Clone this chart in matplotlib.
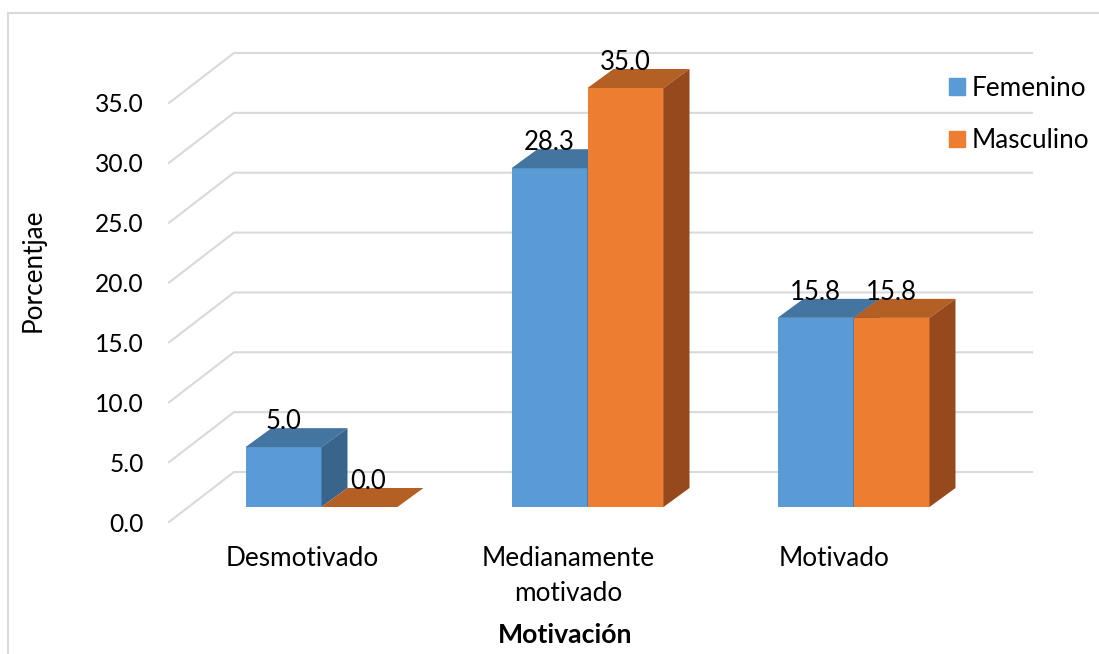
import matplotlib
matplotlib.use('Agg')
import matplotlib.pyplot as plt
from matplotlib.lines import Line2D
from matplotlib.patches import Polygon, Patch

categories = ['Desmotivado', 'Medianamente\nmotivado', 'Motivado']
femenino = [5.0, 28.3, 15.8]
masculino = [0.0, 35.0, 15.8]
yticks = [0, 5, 10, 15, 20, 25, 30, 35]

W, H = 1099, 654
plt.rcParams['font.family'] = ['Lato', 'DejaVu Sans']
plt.rcParams['font.size'] = 18.8
num_size = 17.7

fig = plt.figure(figsize=(W / 100, H / 100), dpi=100)
left, right, top, bottom = 169, 967, 103, 522
ax = fig.add_axes([left / W, 1 - bottom / H, (right - left) / W, (bottom - top) / H])
ax.set_xlim(0, 3)
ax.set_ylim(0, 35)
ax.patch.set_visible(False)
for s in ax.spines.values():
    s.set_visible(False)

# pixel sizes to data units for the fake 3d offsets
px_x = 3 / (right - left)
px_y = 35 / (bottom - top)
wall_dx, wall_dy = 65 * px_x, 50 * px_y
front_dx, front_dy = 19.5 * px_x, 15 * px_y
depth_dx, depth_dy = 26 * px_x, 19 * px_y
bar_w = 76 * px_x
grid_c = '#d9d9d9'

# back wall gridlines with the diagonal on the side wall
for v in yticks:
    ax.plot([0, wall_dx, 3 + wall_dx], [v, v + wall_dy, v + wall_dy], color=grid_c,
            lw=1.5, clip_on=False, zorder=1, solid_joinstyle='miter')


def box(xs, values, front, roof, side, z):
    ax.bar(xs, values, bar_w, bottom=front_dy, align='edge', color=front, zorder=z, clip_on=False)
    for x, v in zip(xs, values):
        y = v + front_dy
        ax.add_patch(Polygon([(x, y), (x + bar_w, y), (x + bar_w + depth_dx, y + depth_dy),
                              (x + depth_dx, y + depth_dy)], closed=True, color=roof, lw=0,
                             zorder=z, clip_on=False))
        ax.add_patch(Polygon([(x + bar_w, front_dy), (x + bar_w, y), (x + bar_w + depth_dx, y + depth_dy),
                              (x + bar_w + depth_dx, front_dy + depth_dy)], closed=True, color=side, lw=0,
                             zorder=z, clip_on=False))


x_fem = [i + 0.5 - bar_w + front_dx for i in range(3)]
x_mas = [i + 0.5 + front_dx for i in range(3)]
for i in range(3):
    box([x_fem[i]], [femenino[i]], '#5b9bd5', '#4474a0', '#39658c', 2 + 2 * i)
    box([x_mas[i]], [masculino[i]], '#ed7d31', '#b45f23', '#95491c', 3 + 2 * i)

# value labels sit over the roof of each bar
for i in range(3):
    ax.text(x_fem[i] + bar_w / 2, femenino[i] + 25.5 * px_y + front_dy, '%.1f' % femenino[i],
            ha='center', va='center', color='black', zorder=20, fontsize=18.5)
    shift = 9 * px_x if masculino[i] == 0 else 0
    ax.text(x_mas[i] + bar_w / 2 + shift, masculino[i] + 25.5 * px_y + front_dy, '%.1f' % masculino[i],
            ha='center', va='center', color='black', zorder=20, fontsize=18.5)

ax.set_yticks(yticks)
ax.set_yticklabels(['%.1f' % v for v in yticks], fontsize=num_size)
ax.set_xticks([0.5, 1.5, 2.5])
ax.set_xticklabels(categories, linespacing=1.54)
ax.tick_params(axis='y', length=0, pad=18)
ax.tick_params(axis='x', length=0, pad=17)

fig.text(33 / W, 1 - 270 / H, 'Porcentjae', rotation=90, ha='center', va='center')
fig.text(565 / W, 1 - 635 / H, 'Motivación', ha='center', va='center', fontsize=19.2, fontweight='bold')

handles = [Patch(color='#5b9bd5', label='Femenino'), Patch(color='#ed7d31', label='Masculino')]
fig.legend(handles=handles, loc='upper left', bbox_to_anchor=(949 / W, 1 - 76 / H), frameon=False,
           handlelength=0.615, handleheight=0.615, handletextpad=0.27, labelspacing=1.04,
           borderpad=0, borderaxespad=0)

# chart area border, cut off by the right and bottom edges
fig.add_artist(Line2D([1, 8 / W, 8 / W], [1 - 13 / H, 1 - 13 / H, 0], color=grid_c, lw=1.5,
                      transform=fig.transFigure, solid_joinstyle='miter'))

fig.savefig('out.png', dpi=100)
